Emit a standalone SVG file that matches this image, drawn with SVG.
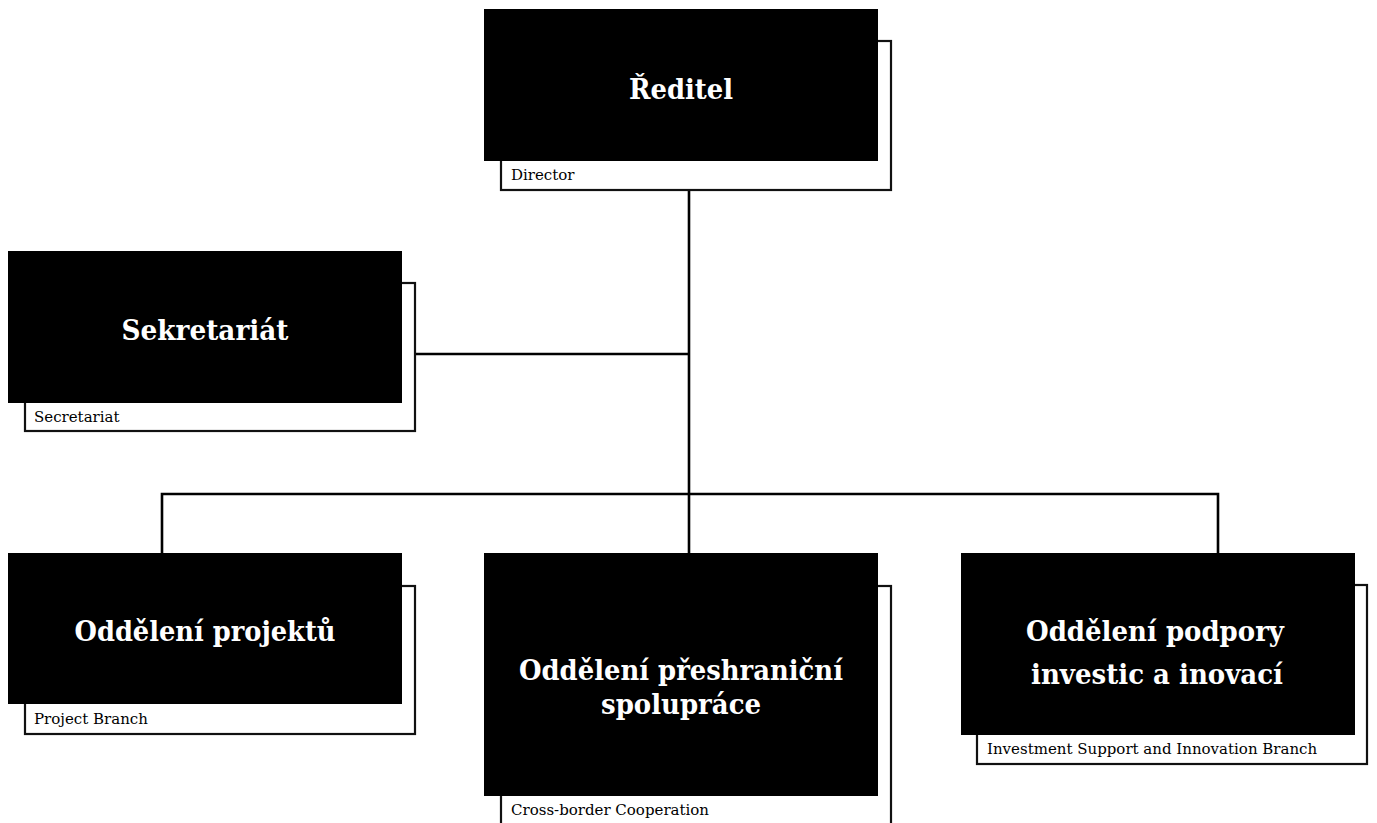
<svg xmlns="http://www.w3.org/2000/svg" width="1377" height="823" viewBox="0 0 1377 823">
  <style>
    .box { fill: #000; }
    .frame { fill: #fff; stroke: #111; stroke-width: 2.2; }
    .title { font-family: "DejaVu Serif", "Liberation Serif", serif; font-weight: bold; font-size: 28px; fill: #fff; text-anchor: middle; }
    .sub { font-family: "DejaVu Serif", "Liberation Serif", serif; font-size: 15px; fill: #000; }
    .conn { fill: none; stroke: #000; stroke-width: 2.6; }
  </style>
  <rect width="1377" height="823" fill="#fff"/>
  <g id="connectors">
    <path class="conn" d="M689 190 V553"/>
    <path class="conn" d="M415 354 H689"/>
    <path class="conn" d="M162 553 V494 H1218 V553"/>
  </g>
  <g id="node-reditel">
    <rect class="frame" x="501" y="41" width="390" height="149"/>
    <rect class="box" x="484" y="9" width="394" height="152"/>
    <text class="title" x="681" y="99" textLength="104" lengthAdjust="spacingAndGlyphs">Ředitel</text>
    <text class="sub" x="511" y="180">Director</text>
  </g>
  <g id="node-sekretariat">
    <rect class="frame" x="25" y="283" width="390" height="148"/>
    <rect class="box" x="8" y="251" width="394" height="152"/>
    <text class="title" x="205" y="340" textLength="167" lengthAdjust="spacingAndGlyphs">Sekretariát</text>
    <text class="sub" x="34" y="422">Secretariat</text>
  </g>
  <g id="node-projekty">
    <rect class="frame" x="25" y="586" width="390" height="148"/>
    <rect class="box" x="8" y="553" width="394" height="151"/>
    <text class="title" x="205" y="641" textLength="261" lengthAdjust="spacingAndGlyphs">Oddělení projektů</text>
    <text class="sub" x="34" y="724">Project Branch</text>
  </g>
  <g id="node-preshranicni">
    <rect class="frame" x="501" y="586" width="390" height="245"/>
    <rect class="box" x="484" y="553" width="394" height="243"/>
    <text class="title" x="681" y="680" textLength="324" lengthAdjust="spacingAndGlyphs">Oddělení přeshraniční</text>
    <text class="title" x="681" y="714" textLength="160" lengthAdjust="spacingAndGlyphs">spolupráce</text>
    <text class="sub" x="511" y="815">Cross-border Cooperation</text>
  </g>
  <g id="node-investice">
    <rect class="frame" x="977" y="585" width="390" height="179"/>
    <rect class="box" x="961" y="553" width="394" height="182"/>
    <text class="title" x="1155" y="641" textLength="258" lengthAdjust="spacingAndGlyphs">Oddělení podpory</text>
    <text class="title" x="1157" y="684" textLength="252" lengthAdjust="spacingAndGlyphs">investic a inovací</text>
    <text class="sub" x="987" y="754">Investment Support and Innovation Branch</text>
  </g>
</svg>
